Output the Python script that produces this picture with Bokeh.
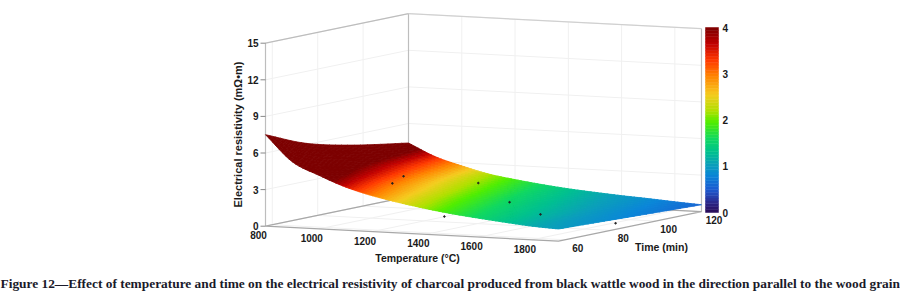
from bokeh.plotting import figure
from bokeh.models import Range1d, ColumnDataSource
from bokeh.core.properties import value
from bokeh.embed import file_html
from bokeh.resources import INLINE
import numpy as np

# ---- data ----
temperature_grid = [800, 900, 1000, 1100, 1200, 1300, 1400, 1500, 1600, 1700, 1800, 1900]
time_grid = [57, 75, 96, 120]
resistivity_t57 = [7.5, 5.4, 4.4, 3.55, 2.95, 2.5, 2.12, 1.8, 1.55, 1.32, 1.12, 1.0]
resistivity_t75 = [6.1, 4.55, 3.75, 3.05, 2.58, 2.17, 1.85, 1.58, 1.37, 1.18, 1.0, 0.88]
resistivity_t96 = [5.15, 3.9, 3.2, 2.6, 2.2, 1.87, 1.58, 1.36, 1.18, 1.02, 0.86, 0.73]
resistivity_t120 = [4.4, 3.4, 2.75, 2.2, 1.85, 1.56, 1.32, 1.14, 0.98, 0.85, 0.7, 0.57]

point_temperature = [1123, 1037, 1190, 1446, 1435, 1679, 1833]
point_time = [75, 90, 105, 60, 90, 75, 90]
point_resistivity = [3.18, 3.09, 2.13, 1.4, 1.41, 1.26, 0.13]

temperature_ticks = [800, 1000, 1200, 1400, 1600, 1800]
time_ticks = [60, 80, 100, 120]
resistivity_ticks = [0, 3, 6, 9, 12, 15]
colorbar_ticks = [0, 1, 2, 3, 4]

color_levels = [0, 0.25, 0.5, 0.8, 1.05, 1.3, 1.6, 1.95, 2.2, 2.55, 2.95, 3.3, 3.65, 4.0]
color_values = ["#2a0a55", "#2c2f94", "#1c5ad0", "#0a86d8", "#0aa0b8", "#00c090",
                "#10d860", "#50ee00", "#b0e000", "#f5cc20", "#ff8400", "#ff3800",
                "#c00000", "#7c0000"]

x_label = "Temperature (°C)"
y_label = "Electrical resistivity (mΩ•m)"
t_label = "Time (min)"
caption = ("Figure 12—Effect of temperature and time on the electrical resistivity of charcoal "
           "produced from black wattle wood in the direction parallel to the wood grain")

# ---- projection ----
T0, T1, t0, t1, Z1 = 800, 1900, 57, 120, 15
OX, OY = 265.0, 225.7
AX, AY = 293.0 / (T1 - T0), 15.0 / (T1 - T0)
BX, BY = 143.0 / (t1 - t0), -29.5 / (t1 - t0)
ZS = 183.0 / Z1


def px(T, t):
    return OX + (np.asarray(T, float) - T0) * AX + (np.asarray(t, float) - t0) * BX


def py(T, t, z=0):
    return OY + (np.asarray(T, float) - T0) * AY + (np.asarray(t, float) - t0) * BY - np.asarray(z, float) * ZS


rgb = np.array([[int(c[i:i + 2], 16) for i in (1, 3, 5)] for c in color_values], float)


def colour(z):
    z = min(max(z, 0), 4)
    return "#%02x%02x%02x" % tuple(int(round(np.interp(z, color_levels, rgb[:, k]))) for k in range(3))


def smooth(values, n):
    """Catmull-Rom painting of one table row, n sub-steps a cell."""
    v = np.asarray(values, float)
    e = np.concatenate([[2 * v[0] - v[1]], v, [2 * v[-1] - v[-2]]])
    out = []
    for i in range(1, len(e) - 2):
        for s in np.arange(n) / n:
            out.append(0.5 * (2 * e[i] + (e[i + 1] - e[i - 1]) * s
                              + (2 * e[i - 1] - 5 * e[i] + 4 * e[i + 1] - e[i + 2]) * s * s
                              + (3 * e[i] - e[i - 1] - 3 * e[i + 1] + e[i + 2]) * s ** 3))
    out.append(v[-1])
    return np.array(out)


p = figure(width=900, height=292, output_backend="svg", toolbar_location=None,
           x_range=Range1d(0, 900), y_range=Range1d(292, 0), min_border=0,
           outline_line_color=None, background_fill_color="white")
p.axis.visible = False
p.grid.visible = False
FONT = value("Liberation Sans")
INK = "#1a1a1a"
GRID = "#f0f0f0"
BOX = "#bdbdbd"

# gridlines on walls and floor
for T in temperature_ticks:
    p.line(px([T, T], [t0, t1]), py([T, T], [t0, t1]), line_color=GRID, line_width=1)
    p.line(px([T, T], [t1, t1]), py([T, T], [t1, t1], [0, Z1]), line_color=GRID, line_width=1)
for t in time_ticks:
    p.line(px([T0, T1], [t, t]), py([T0, T1], [t, t]), line_color=GRID, line_width=1)
    p.line(px([T0, T0], [t, t]), py([T0, T0], [t, t], [0, Z1]), line_color=GRID, line_width=1)
for z in resistivity_ticks:
    p.line(px([T0, T0, T1], [t0, t1, t1]), py([T0, T0, T1], [t0, t1, t1], z), line_color=GRID, line_width=1)

# box
p.line(px([T0, T0, T0, T0], [t0, t0, t1, t1]), py([T0, T0, T0, T0], [t0, t0, t1, t1], [0, Z1, Z1, 0]),
       line_color=BOX, line_width=1.2)
p.line(px([T0, T1], [t1, t1]), py([T0, T1], [t1, t1], Z1), line_color="#d0d0d0", line_width=1.2)
p.line(px([T1, T1], [t1, t1]), py([T1, T1], [t1, t1], [0, Z1]), line_color=BOX, line_width=1.2)
p.line(px([T0, T1, T1, T0, T0], [t0, t0, t1, t1, t0]), py([T0, T1, T1, T0, T0], [t0, t0, t1, t1, t0]),
       line_color="#a8a8a8", line_width=1.2)

# surface (table cells are split only for painting the colour)
table = np.array([resistivity_t57, resistivity_t75, resistivity_t96, resistivity_t120], float)
NS = 8
Ts = smooth(temperature_grid, NS)
tsub = smooth(time_grid, NS)
by_t = np.array([smooth(row, NS) for row in table])
Zs = np.array([smooth(by_t[:, i], NS) for i in range(len(Ts))])  # [T, t]
xs, ys, cols = [], [], []
for j in range(len(tsub) - 2, -1, -1):
    for i in range(len(Ts) - 2, -1, -1):
        a = [Ts[i], Ts[i + 1], Ts[i + 1], Ts[i]]
        b = [tsub[j], tsub[j], tsub[j + 1], tsub[j + 1]]
        c = [Zs[i, j], Zs[i + 1, j], Zs[i + 1, j + 1], Zs[i, j + 1]]
        xs.append(list(px(a, b)))
        ys.append(list(py(a, b, c)))
        cols.append(colour(float(np.mean(c))))
p.patches("xs", "ys", source=ColumnDataSource(dict(xs=xs, ys=ys, c=cols)),
          fill_color="c", line_color="c", line_width=0.8)

# data points
p.scatter(px(point_temperature, point_time), py(point_temperature, point_time, point_resistivity),
          size=1.6, marker="circle", color="#222222")


def label(x, y, s, size="10px", align="center", angle=0, font=FONT, color=INK):
    p.text([x], [y], text=[s], text_font=font, text_font_size=size, text_font_style="bold",
           text_align=align, text_baseline="middle", angle=angle, text_color=color)


# axes tick marks and labels
for z in resistivity_ticks:
    x0, y0 = float(px(T0, t0)), float(py(T0, t0, z))
    p.line([x0 - 5, x0], [y0, y0], line_color="#888888", line_width=1)
    label(x0 - 7, y0, str(z), align="right")
for T in temperature_ticks:
    x0, y0 = float(px(T, t0)), float(py(T, t0))
    label(x0 - 7, y0 + 9, str(T))
for t in time_ticks:
    x0, y0 = float(px(T1, t)), float(py(T1, t))
    label(x0 + 12.5, y0 + 8, str(t))

label(237, 134, y_label, size="11px", angle=np.pi / 2)
label(417, 257, x_label, size="10.5px")
label(661, 246, t_label, size="10.5px")

# colour bar
BX0, BX1, BY0, BS = 705, 718, 212, 46.25
levels = np.linspace(0, 4, 65)
p.quad(left=BX0, right=BX1, bottom=BY0 - levels[:-1] * BS, top=BY0 - levels[1:] * BS,
       fill_color=[colour(float(v)) for v in (levels[:-1] + levels[1:]) / 2],
       line_color=[colour(float(v)) for v in (levels[:-1] + levels[1:]) / 2], line_width=0.5)
for v in colorbar_ticks:
    label(722, BY0 - v * BS, str(v), align="left")

# caption
p.text([0], [283], text=[caption], text_font=value("Liberation Serif"), text_font_size="13.38px",
       text_font_style="bold", text_align="left", text_baseline="middle", text_color="#1a1a2a")

open("out.html", "w").write(file_html(p, INLINE))
